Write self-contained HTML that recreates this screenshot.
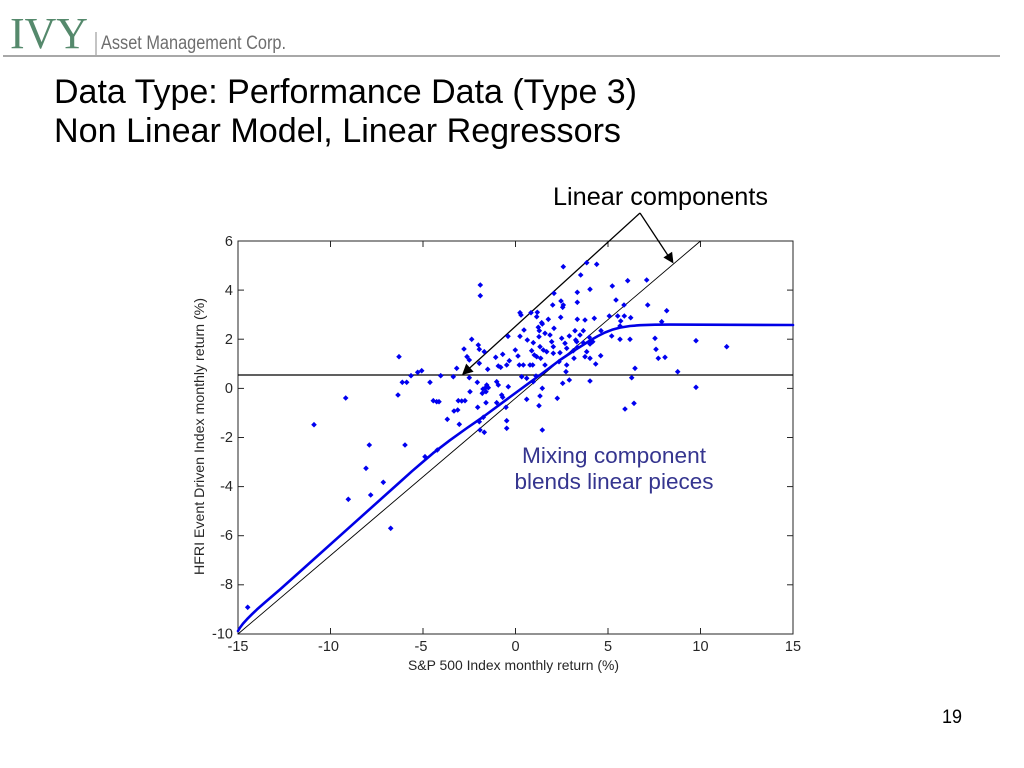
<!DOCTYPE html>
<html>
<head>
<meta charset="utf-8">
<style>
html,body{margin:0;padding:0;background:#fff;}
svg{display:block;}
</style>
</head>
<body>
<svg width="1024" height="768" viewBox="0 0 1024 768" xmlns="http://www.w3.org/2000/svg" font-family="Liberation Sans, Arial, sans-serif">
<rect x="0" y="0" width="1024" height="768" fill="#fff"/>
<defs>
<path id="m" d="M0 -2.8L2.8 0L0 2.8L-2.8 0Z" fill="#0000f0"/>
</defs>

<!-- Header -->
<text x="10" y="48" font-family="Liberation Serif, serif" font-size="44" fill="#55896c" textLength="78" lengthAdjust="spacingAndGlyphs">IVY</text>
<line x1="96" y1="32" x2="96" y2="55" stroke="#8a8a8a" stroke-width="1"/>
<text x="101" y="49" font-size="19" fill="#6e6e6e" textLength="185" lengthAdjust="spacingAndGlyphs">Asset Management Corp.</text>
<line x1="3" y1="56" x2="1000" y2="56" stroke="#a8a8a8" stroke-width="2"/>

<!-- Title -->
<text x="54" y="103" font-size="34" fill="#000" textLength="583" lengthAdjust="spacingAndGlyphs">Data Type: Performance Data (Type 3)</text>
<text x="54" y="142" font-size="34" fill="#000" textLength="567" lengthAdjust="spacingAndGlyphs">Non Linear Model, Linear Regressors</text>

<!-- Axes box -->
<rect x="238" y="241" width="555" height="393" fill="none" stroke="#262626" stroke-width="1"/>
<!-- ticks -->
<g stroke="#262626" stroke-width="1">
<line x1="330.5" y1="634" x2="330.5" y2="628"/><line x1="423" y1="634" x2="423" y2="628"/><line x1="515.5" y1="634" x2="515.5" y2="628"/><line x1="608" y1="634" x2="608" y2="628"/><line x1="700.5" y1="634" x2="700.5" y2="628"/>
<line x1="330.5" y1="241" x2="330.5" y2="247"/><line x1="423" y1="241" x2="423" y2="247"/><line x1="515.5" y1="241" x2="515.5" y2="247"/><line x1="608" y1="241" x2="608" y2="247"/><line x1="700.5" y1="241" x2="700.5" y2="247"/>
<line x1="238" y1="290.1" x2="244" y2="290.1"/><line x1="238" y1="339.2" x2="244" y2="339.2"/><line x1="238" y1="388.4" x2="244" y2="388.4"/><line x1="238" y1="437.5" x2="244" y2="437.5"/><line x1="238" y1="486.6" x2="244" y2="486.6"/><line x1="238" y1="535.7" x2="244" y2="535.7"/><line x1="238" y1="584.8" x2="244" y2="584.8"/>
<line x1="793" y1="290.1" x2="787" y2="290.1"/><line x1="793" y1="339.2" x2="787" y2="339.2"/><line x1="793" y1="388.4" x2="787" y2="388.4"/><line x1="793" y1="437.5" x2="787" y2="437.5"/><line x1="793" y1="486.6" x2="787" y2="486.6"/><line x1="793" y1="535.7" x2="787" y2="535.7"/><line x1="793" y1="584.8" x2="787" y2="584.8"/>
</g>
<!-- tick labels -->
<g font-size="14.5" fill="#262626" text-anchor="middle">
<text x="238" y="651">-15</text><text x="328.5" y="651">-10</text><text x="421" y="651">-5</text><text x="515.5" y="651">0</text><text x="608" y="651">5</text><text x="700.5" y="651">10</text><text x="793" y="651">15</text>
</g>
<g font-size="14.5" fill="#262626" text-anchor="end">
<text x="233" y="246">6</text><text x="233" y="295">4</text><text x="233" y="344">2</text><text x="233" y="393">0</text><text x="233" y="442">-2</text><text x="233" y="491">-4</text><text x="233" y="540">-6</text><text x="233" y="589">-8</text><text x="233" y="638.5">-10</text>
</g>
<!-- axis labels -->
<text x="408" y="670" font-size="14" fill="#262626" textLength="211" lengthAdjust="spacingAndGlyphs">S&amp;P 500 Index monthly return (%)</text>
<text transform="translate(204,575) rotate(-90)" x="0" y="0" font-size="14" fill="#262626" textLength="277" lengthAdjust="spacingAndGlyphs">HFRI Event Driven Index monthly return (%)</text>

<!-- reference lines -->
<line x1="238" y1="375" x2="793" y2="375" stroke="#000" stroke-width="1.2"/>
<line x1="238" y1="634" x2="700.5" y2="241" stroke="#000" stroke-width="0.9"/>

<!-- annotation arrows -->
<g stroke="#000" stroke-width="1.3" fill="none">
<line x1="640" y1="213" x2="469" y2="368.6"/>
<line x1="640" y1="213" x2="668" y2="255.5"/>
</g>
<path d="M462 375 L466.2 363.6 L473.6 371.8 Z" fill="#000"/>
<path d="M673.5 263.5 L663.4 257.5 L672.1 251.7 Z" fill="#000"/>
<text x="553" y="205" font-size="25" fill="#000" textLength="215" lengthAdjust="spacingAndGlyphs">Linear components</text>

<!-- scatter -->
<g>
<use href="#m" x="247.7" y="607.3"/><use href="#m" x="314" y="424.7"/><use href="#m" x="345.7" y="398"/><use href="#m" x="348.3" y="499.3"/><use href="#m" x="366" y="468.3"/><use href="#m" x="369.3" y="445"/><use href="#m" x="370.7" y="495"/><use href="#m" x="383.3" y="482.3"/><use href="#m" x="390.7" y="528.3"/><use href="#m" x="399" y="356.7"/><use href="#m" x="398" y="395"/><use href="#m" x="402.3" y="382.3"/><use href="#m" x="406.7" y="382.3"/><use href="#m" x="405" y="445"/><use href="#m" x="411" y="375.7"/><use href="#m" x="417.7" y="372.3"/><use href="#m" x="421.7" y="370.7"/><use href="#m" x="425" y="456.7"/><use href="#m" x="430" y="382.3"/><use href="#m" x="437.3" y="450"/><use href="#m" x="440.7" y="375.7"/><use href="#m" x="433.3" y="400.7"/><use href="#m" x="436.7" y="401.7"/><use href="#m" x="439" y="401.7"/><use href="#m" x="447.3" y="419.3"/><use href="#m" x="453.3" y="376.7"/><use href="#m" x="456.7" y="368.3"/><use href="#m" x="454" y="411"/><use href="#m" x="457.7" y="410"/><use href="#m" x="459.3" y="424.3"/><use href="#m" x="458.3" y="400.7"/><use href="#m" x="461.7" y="401"/><use href="#m" x="465" y="400.7"/><use href="#m" x="464" y="349"/><use href="#m" x="467" y="356.7"/><use href="#m" x="469.3" y="360"/><use href="#m" x="469.3" y="377.7"/><use href="#m" x="470" y="391.7"/><use href="#m" x="471.7" y="339.3"/><use href="#m" x="477.3" y="382.3"/><use href="#m" x="477.7" y="407.3"/><use href="#m" x="478.3" y="345"/><use href="#m" x="479.3" y="349.3"/><use href="#m" x="479.3" y="363.3"/><use href="#m" x="479.3" y="421.7"/><use href="#m" x="480" y="430"/><use href="#m" x="480.3" y="285"/><use href="#m" x="480.3" y="295.7"/><use href="#m" x="482.3" y="393.3"/><use href="#m" x="483" y="389"/><use href="#m" x="483.3" y="417.3"/><use href="#m" x="484.3" y="351.7"/><use href="#m" x="484.3" y="432.3"/><use href="#m" x="485" y="388.3"/><use href="#m" x="486" y="391.7"/><use href="#m" x="486" y="402.7"/><use href="#m" x="486.7" y="385"/><use href="#m" x="487.7" y="369.3"/><use href="#m" x="488.3" y="387.7"/><use href="#m" x="495.7" y="357.3"/><use href="#m" x="496.7" y="381.7"/><use href="#m" x="496.7" y="402.7"/><use href="#m" x="498.3" y="366"/><use href="#m" x="498.3" y="385"/><use href="#m" x="500.7" y="367.3"/><use href="#m" x="501.7" y="395"/><use href="#m" x="502.7" y="354.3"/><use href="#m" x="502.7" y="397.3"/><use href="#m" x="506" y="407.3"/><use href="#m" x="506.7" y="365"/><use href="#m" x="506.7" y="420.7"/><use href="#m" x="506.7" y="428.3"/><use href="#m" x="508" y="336.3"/><use href="#m" x="508.3" y="386.7"/><use href="#m" x="509.3" y="360.7"/><use href="#m" x="515.3" y="350"/><use href="#m" x="518" y="356"/><use href="#m" x="519.3" y="365"/><use href="#m" x="520" y="312.7"/><use href="#m" x="521" y="315"/><use href="#m" x="520" y="336.3"/><use href="#m" x="521.7" y="376.7"/><use href="#m" x="523.3" y="365"/><use href="#m" x="524" y="330"/><use href="#m" x="526.7" y="378.3"/><use href="#m" x="526.7" y="399.3"/><use href="#m" x="527.3" y="340"/><use href="#m" x="530" y="365"/><use href="#m" x="531" y="312.7"/><use href="#m" x="531.7" y="350.7"/><use href="#m" x="532.7" y="365"/><use href="#m" x="533.3" y="342.7"/><use href="#m" x="533.3" y="381.7"/><use href="#m" x="534.3" y="355"/><use href="#m" x="536" y="376"/><use href="#m" x="536.7" y="316.7"/><use href="#m" x="536.7" y="356.7"/><use href="#m" x="537.3" y="312.3"/><use href="#m" x="538.3" y="327.3"/><use href="#m" x="539" y="336.7"/><use href="#m" x="539" y="405.7"/><use href="#m" x="539.3" y="330.7"/><use href="#m" x="540" y="346.7"/><use href="#m" x="540" y="396"/><use href="#m" x="542.3" y="324"/><use href="#m" x="542.3" y="388.3"/><use href="#m" x="542.3" y="430"/><use href="#m" x="543.3" y="350"/><use href="#m" x="545" y="333.3"/><use href="#m" x="545" y="365"/><use href="#m" x="546.7" y="351.7"/><use href="#m" x="548.3" y="319.3"/>
<use href="#m" x="563.3" y="266.7"/><use href="#m" x="586.7" y="262.7"/><use href="#m" x="596.7" y="264.3"/><use href="#m" x="580.7" y="275"/><use href="#m" x="554" y="293.3"/><use href="#m" x="577.3" y="292.3"/><use href="#m" x="590" y="289.3"/><use href="#m" x="612.3" y="286"/><use href="#m" x="627.7" y="280.7"/><use href="#m" x="646.7" y="280"/><use href="#m" x="552.7" y="305"/><use href="#m" x="561" y="301"/><use href="#m" x="563.3" y="305"/><use href="#m" x="562.7" y="307.3"/><use href="#m" x="577.3" y="302.3"/><use href="#m" x="616" y="300"/><use href="#m" x="624" y="305"/><use href="#m" x="647.7" y="305"/><use href="#m" x="666.7" y="310.7"/><use href="#m" x="560.7" y="317.3"/><use href="#m" x="577.3" y="319.3"/><use href="#m" x="585" y="320"/><use href="#m" x="594.3" y="318.3"/><use href="#m" x="609.3" y="316"/><use href="#m" x="617.7" y="316"/><use href="#m" x="624.3" y="316"/><use href="#m" x="630.7" y="317.7"/><use href="#m" x="620.7" y="321"/><use href="#m" x="541.7" y="322.7"/><use href="#m" x="554" y="328.3"/><use href="#m" x="575" y="330.7"/><use href="#m" x="583.3" y="330.7"/><use href="#m" x="601" y="330.7"/><use href="#m" x="620" y="326"/><use href="#m" x="550" y="335"/><use href="#m" x="561.7" y="338.3"/><use href="#m" x="569.3" y="336"/><use href="#m" x="575.7" y="340"/><use href="#m" x="580" y="335"/><use href="#m" x="589.3" y="337.3"/><use href="#m" x="611.7" y="336"/><use href="#m" x="620" y="339.3"/><use href="#m" x="630" y="339.3"/><use href="#m" x="655" y="338.3"/><use href="#m" x="551.7" y="341.7"/><use href="#m" x="565" y="343.3"/><use href="#m" x="576.7" y="341.7"/><use href="#m" x="583.3" y="342.7"/><use href="#m" x="592.7" y="341.7"/><use href="#m" x="553.3" y="346.7"/><use href="#m" x="566.7" y="348.3"/><use href="#m" x="577.3" y="347.3"/><use href="#m" x="590" y="344"/><use href="#m" x="656" y="349.3"/><use href="#m" x="553.3" y="353.3"/><use href="#m" x="560" y="352.7"/><use href="#m" x="573.3" y="350.7"/><use href="#m" x="586.7" y="351.7"/><use href="#m" x="600.7" y="355.7"/><use href="#m" x="540.7" y="358.3"/><use href="#m" x="574" y="358.3"/><use href="#m" x="585" y="356.7"/><use href="#m" x="590" y="358.3"/><use href="#m" x="658.3" y="358.3"/><use href="#m" x="665" y="357.3"/><use href="#m" x="559" y="361.7"/><use href="#m" x="566.7" y="365"/><use href="#m" x="595.7" y="364"/><use href="#m" x="635" y="368.3"/><use href="#m" x="566" y="371.7"/><use href="#m" x="631.7" y="377.7"/><use href="#m" x="562.7" y="383.3"/><use href="#m" x="569.3" y="380"/><use href="#m" x="590" y="381"/><use href="#m" x="557.3" y="398.3"/><use href="#m" x="625" y="409"/><use href="#m" x="634" y="403.3"/><use href="#m" x="661.7" y="321.7"/><use href="#m" x="677.7" y="371.7"/><use href="#m" x="696" y="340.7"/><use href="#m" x="726.7" y="346.7"/><use href="#m" x="696" y="387.3"/>
</g>

<!-- mixture curve -->
<polyline fill="none" stroke="#0000e6" stroke-width="2.6" stroke-linejoin="round" stroke-linecap="round"
points="238,631 240,627.6 243,623.6 247,619.2 252,614.2 257,609.4 265,602.4 280,589.5 300,571.6 350,526.8 400,482 412,471.2 422,462.6 433,453.2 450,440.2 467,428 483,417 510,397 540,375 560,360 575,350 583,345 590,340.5 598,336 605,332.5 612,329.8 620,327.6 630,326 640,325.2 655,324.7 670,324.6 793,325"/>

<!-- annotation text -->
<g font-size="22.5" fill="#35358f" text-anchor="middle">
<text x="614" y="463" textLength="184" lengthAdjust="spacingAndGlyphs">Mixing component</text>
<text x="614" y="489" textLength="199" lengthAdjust="spacingAndGlyphs">blends linear pieces</text>
</g>

<!-- page number -->
<text x="942" y="723" font-size="19" fill="#000" textLength="20" lengthAdjust="spacingAndGlyphs">19</text>
</svg>
</body>
</html>
